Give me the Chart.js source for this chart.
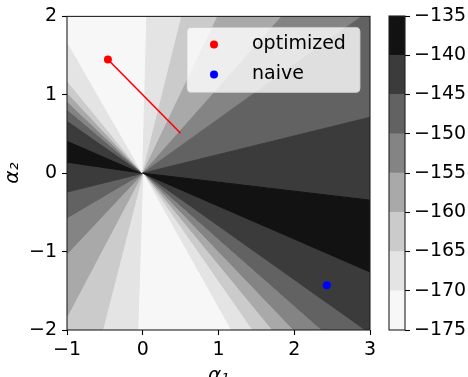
<!DOCTYPE html>
<html>
<head>
<meta charset="utf-8">
<script src="https://cdn.jsdelivr.net/npm/chart.js@4.4.0/dist/chart.umd.min.js"></script>
<style>
  html, body { margin: 0; padding: 0; background: #fff; overflow: hidden; }
  #wrap { position: relative; width: 468px; height: 377px; overflow: hidden; }
  #main { position: absolute; left: 0; top: 0; }
  #cbar { position: absolute; left: 380px; top: 0; }
</style>
</head>
<body>
<div id="wrap">
  <canvas id="main" width="385" height="395"></canvas>
  <canvas id="cbar" width="88" height="377"></canvas>
</div>
<script>
Chart.defaults.font.family = '"DejaVu Sans", sans-serif';
Chart.defaults.font.size = 19;
Chart.defaults.color = '#000';

// contour levels and their fill colours (Greys)
const levels = [-175, -170, -165, -160, -155, -150, -145, -140, -135];
const levelColors = ['#f7f7f7', '#e4e4e4', '#cbcbcb', '#a9a9a9', '#848484', '#626262', '#3b3b3b', '#121212'];

// points where the contour lines hit the frame, counter-clockwise from the right edge
const edgeX = [3, 3, 3, 2.89, 1.835, 0.99, 0.515, 0.053, -1, -1, -1, -1, -1, -1, -1, -1, -1, -1, -1, -1, -0.53, -0.066, 1.16, 1.44, 1.70, 1.98, 2.35, 2.92];
const edgeY = [-1.26, -0.344, 0.713, 2, 2, 2, 2, 2, 1.68, 1.18, 1.03, 0.917, 0.815, 0.675, 0.42, 0.14, -0.24, -0.57, -1.03, -1.83, -2, -2, -2, -2, -2, -2, -2, -2];
// lower level of the band that follows each edge point
const bandLevel = [-140, -145, -150, -155, -160, -165, -170, -175, -170, -165, -160, -155, -150, -145, -140, -145, -150, -155, -160, -165, -170, -175, -170, -165, -160, -155, -150, -145];
const centreX = 0;
const centreY = 0;

// optimized run: start point and end of its path
const optimizedX = [-0.46, 0.5];
const optimizedY = [1.45, 0.51];
const naiveX = [2.43];
const naiveY = [-1.43];

const xTicks = [-1, 0, 1, 2, 3];
const yTicks = [-2, -1, 0, 1, 2];
const cbarTicks = [-175, -170, -165, -160, -155, -150, -145, -140, -135];

const fmt = v => (v < 0 ? '\u2212' + Math.abs(v) : String(v));

const xMin = xTicks[0], xMax = xTicks[xTicks.length - 1];
const yMin = yTicks[0], yMax = yTicks[yTicks.length - 1];
const W = xMax - xMin, H = yMax - yMin, P = 2 * (W + H);

// position along the frame, counter-clockwise from bottom-right corner
function perim(x, y) {
    if (x >= xMax && y < yMax) return y - yMin;
    if (y >= yMax && x > xMin) return H + (xMax - x);
    if (x <= xMin && y > yMin) return H + W + (yMax - y);
    return 2 * H + W + (x - xMin);
}
const corners = [[xMax, yMin, 0], [xMax, yMax, H], [xMin, yMax, H + W], [xMin, yMin, 2 * H + W]];

const wedges = edgeX.map((x0, i) => {
    const j = (i + 1) % edgeX.length;
    const t0 = perim(x0, edgeY[i]);
    let t1 = perim(edgeX[j], edgeY[j]);
    if (t1 <= t0) t1 += P;
    const pts = [{x: centreX, y: centreY}, {x: x0, y: edgeY[i]}];
    [0, P].forEach(off => corners.forEach(c => {
        const t = c[2] + off;
        if (t > t0 && t < t1) pts.push({x: c[0], y: c[1]});
    }));
    pts.push({x: edgeX[j], y: edgeY[j]});
    pts.push({x: centreX, y: centreY});
    const color = levelColors[levels.indexOf(bandLevel[i])];
    return {
        data: pts, showLine: true, fill: 'shape',
        backgroundColor: color, borderColor: color, borderWidth: 1,
        pointRadius: 0, order: 3
    };
});

const framePlugin = {
    id: 'frame',
    afterDatasetsDraw(chart) {
        const {ctx, chartArea: a} = chart;
        ctx.save();
        ctx.strokeStyle = '#222';
        ctx.lineWidth = 1.1;
        ctx.strokeRect(a.left, a.top, a.right - a.left, a.bottom - a.top);
        ctx.restore();
    }
};

const legendPlugin = {
    id: 'boxLegend',
    afterDatasetsDraw(chart) {
        const {ctx, chartArea} = chart;
        const items = chart.data.datasets.filter(d => d.label);
        const w = 173, h = 65;
        const left = chartArea.right - 10 - w, top = chartArea.top + 11;
        ctx.save();
        ctx.beginPath();
        ctx.roundRect(left, top, w, h, 4);
        ctx.fillStyle = 'rgba(255,255,255,0.8)';
        ctx.fill();
        ctx.strokeStyle = 'rgba(204,204,204,0.8)';
        ctx.lineWidth = 1;
        ctx.stroke();
        ctx.font = '19px "DejaVu Sans"';
        ctx.textBaseline = 'middle';
        items.forEach((d, i) => {
            const cy = top + 17 + i * 30;
            ctx.fillStyle = d.backgroundColor;
            ctx.beginPath();
            ctx.arc(left + 27, cy, 4, 0, Math.PI * 2);
            ctx.fill();
            ctx.fillStyle = '#000';
            ctx.fillText(d.label, left + 65, cy);
        });
        ctx.restore();
    }
};

const tickGrid = { drawOnChartArea: false, drawTicks: true, tickLength: 5, tickWidth: 1.1, tickColor: '#000' };

new Chart(document.getElementById('main'), {
    type: 'scatter',
    data: {
        datasets: [
            { label: 'optimized', data: [{x: optimizedX[0], y: optimizedY[0]}], backgroundColor: '#ff0000', borderColor: '#ff0000', pointRadius: 4, borderWidth: 0, order: 1 },
            { label: 'naive', data: naiveX.map((x, i) => ({x, y: naiveY[i]})), backgroundColor: '#0000ff', borderColor: '#0000ff', pointRadius: 4, borderWidth: 0, order: 1 },
            { data: optimizedX.map((x, i) => ({x, y: optimizedY[i]})), showLine: true, borderColor: '#ff0000', borderWidth: 1.6, pointRadius: 0, order: 2 },
            ...wedges
        ]
    },
    options: {
        responsive: false,
        animation: false,
        events: [],
        layout: { padding: { left: 0, right: 15, top: 16, bottom: 0 } },
        plugins: { legend: { display: false }, tooltip: { enabled: false } },
        scales: {
            x: {
                type: 'linear', min: xMin, max: xMax,
                afterBuildTicks: s => { s.ticks = xTicks.map(v => ({value: v})); },
                ticks: { callback: fmt, padding: 4, maxRotation: 0 },
                grid: tickGrid,
                border: { display: false },
                title: { display: true, text: 'α₁', font: { style: 'italic', size: 20 }, padding: { top: 0, bottom: 7 } },
                afterFit: s => { s.height = 65; }
            },
            y: {
                type: 'linear', min: yMin, max: yMax,
                afterBuildTicks: s => { s.ticks = yTicks.map(v => ({value: v})); },
                ticks: { callback: fmt, padding: 5 },
                grid: tickGrid,
                border: { display: false },
                title: { display: true, text: 'α₂', font: { style: 'italic', size: 20 }, padding: { top: 1, bottom: 0 } },
                afterFit: s => { s.width = 67; }
            }
        }
    },
    plugins: [framePlugin, legendPlugin]
});

// colour bar
new Chart(document.getElementById('cbar'), {
    type: 'bar',
    data: {
        labels: [''],
        datasets: levels.slice(0, -1).map((lo, i) => ({
            data: [[lo, levels[i + 1]]],
            backgroundColor: levelColors[i],
            borderWidth: 0,
            barPercentage: 1,
            categoryPercentage: 1,
            grouped: false
        }))
    },
    options: {
        responsive: false,
        animation: false,
        events: [],
        layout: { padding: { left: 9, right: 0, top: 16, bottom: 47 } },
        plugins: { legend: { display: false }, tooltip: { enabled: false } },
        scales: {
            x: { display: false },
            y: {
                position: 'right', min: levels[0], max: levels[levels.length - 1],
                afterBuildTicks: s => { s.ticks = cbarTicks.map(v => ({value: v})); },
                ticks: { callback: fmt, padding: 4 },
                grid: tickGrid,
                border: { display: false },
                afterFit: s => { s.width = 63; }
            }
        }
    },
    plugins: [framePlugin]
});
</script>
</body>
</html>
